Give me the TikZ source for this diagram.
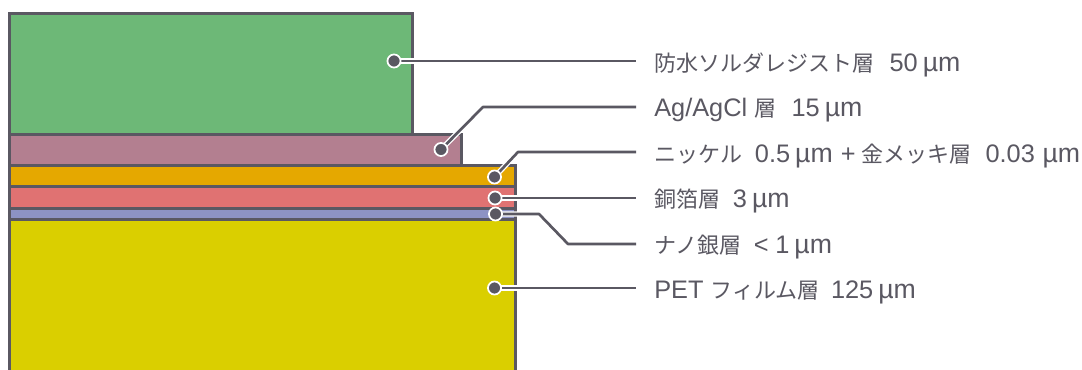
\documentclass[tikz,border=0pt]{standalone}
\usepackage{fontspec}
\setmainfont{Liberation Sans}
\newfontfamily\jpf{Noto Sans CJK JP}
\newcommand{\jp}[1]{{\fontsize{16.5pt}{18pt}\selectfont\jpf #1}}
\newcommand{\um}{\hspace{3.8pt}{\fontsize{20pt}{20pt}\selectfont µm}}
\definecolor{ink}{HTML}{5A5862}
\definecolor{cgreen}{HTML}{6DB877}
\definecolor{cpink}{HTML}{B37F90}
\definecolor{corange}{HTML}{E5A800}
\definecolor{cred}{HTML}{E07272}
\definecolor{cblue}{HTML}{8D93C4}
\definecolor{cyellow}{HTML}{DACF00}
\tikzset{
  x=0.75pt,y=-0.75pt,
  layer/.style={draw=ink,line width=2.25pt,line join=miter},
  dotmark/.style={circle,fill=ink,draw=white,line width=1.3pt,minimum size=9.8pt,inner sep=0pt},
  lab/.style={anchor=west,inner ysep=0pt,inner xsep=0pt,text=ink,font=\fontsize{19pt}{20pt}\selectfont,text height=12.4pt,text depth=0pt},
  casing/.style={draw=white,line width=4pt,line join=round},
  conn/.style={draw=ink,line width=2pt,line join=round}
}
\begin{document}
\begin{tikzpicture}
\useasboundingbox (0,0) rectangle (1082,370);
\fill[white] (0,0) rectangle (1082,370);
% layers
\fill[cyellow] (9,219.5) rectangle (515.5,370);
\fill[cblue] (9,208.5) rectangle (515.5,219.5);
\fill[cred] (9,187) rectangle (515.5,208.5);
\fill[corange] (9,166) rectangle (515.5,187);
\fill[cpink] (9,134.5) rectangle (461,166);
\fill[cgreen] (9,13.5) rectangle (412,134.5);
\draw[layer] (9,370) -- (9,13.5) -- (412,13.5) -- (412,134.5);
\draw[layer] (9,134.5) -- (461,134.5) -- (461,166);
\draw[layer] (9,166) -- (515.5,166) -- (515.5,370);
\draw[layer] (9,187) -- (515.5,187);
\draw[layer] (9,208.5) -- (515.5,208.5);
\draw[layer] (9,219.5) -- (515.5,219.5);
% dots and labels
\coordinate (a1) at (394,61);
\coordinate (a2) at (441,149.5);
\coordinate (a3) at (494.5,177);
\coordinate (a4) at (495,198);
\coordinate (a5) at (495.5,214);
\coordinate (a6) at (494.5,288);
\coordinate (b2) at (483,107);
\coordinate (b3) at (518,152);
\coordinate (b5) at (539,214);
\coordinate (c5) at (568,244);
\coordinate (e1) at (636,61);
\coordinate (e2) at (636,107);
\coordinate (e3) at (636,152);
\coordinate (e4) at (636,198);
\coordinate (e5) at (636,244);
\coordinate (e6) at (636,288);
\foreach \s in {casing,conn}{
  \draw[\s] (a1) -- (e1);
  \draw[\s] (a2) -- (b2) -- (e2);
  \draw[\s] (a3) -- (b3) -- (e3);
  \draw[\s] (a4) -- (e4);
  \draw[\s] (a5) -- (b5) -- (c5) -- (e5);
  \draw[\s] (a6) -- (e6);
}
\foreach \n in {1,...,6}{\node[dotmark] (d\n) at (a\n) {};}
\node[lab] (l1) at (654,63) {\jp{防水ソルダレジスト層}\hspace{11.5pt}50\um};
\node[lab] (l2) at (654,108.5) {Ag/AgCl \jp{層}\hspace{11.5pt}15\um};
\node[lab] (l3) at (654,154) {\jp{ニッケル}\hspace{9.5pt}0.5\um\hspace{6pt}+\hspace{4.5pt}\jp{金メッキ層}\hspace{10.5pt}0.03\hspace{2pt}\um};
\node[lab] (l4) at (654,199.5) {\jp{銅箔層}\hspace{9.5pt}3\um};
\node[lab] (l5) at (654,245.5) {\jp{ナノ銀層}\hspace{9.5pt}<\hspace{5pt}1\um};
\node[lab] (l6) at (654,290.5) {PET \jp{フィルム層}\hspace{8.5pt}125\um};
\end{tikzpicture}
\end{document}
